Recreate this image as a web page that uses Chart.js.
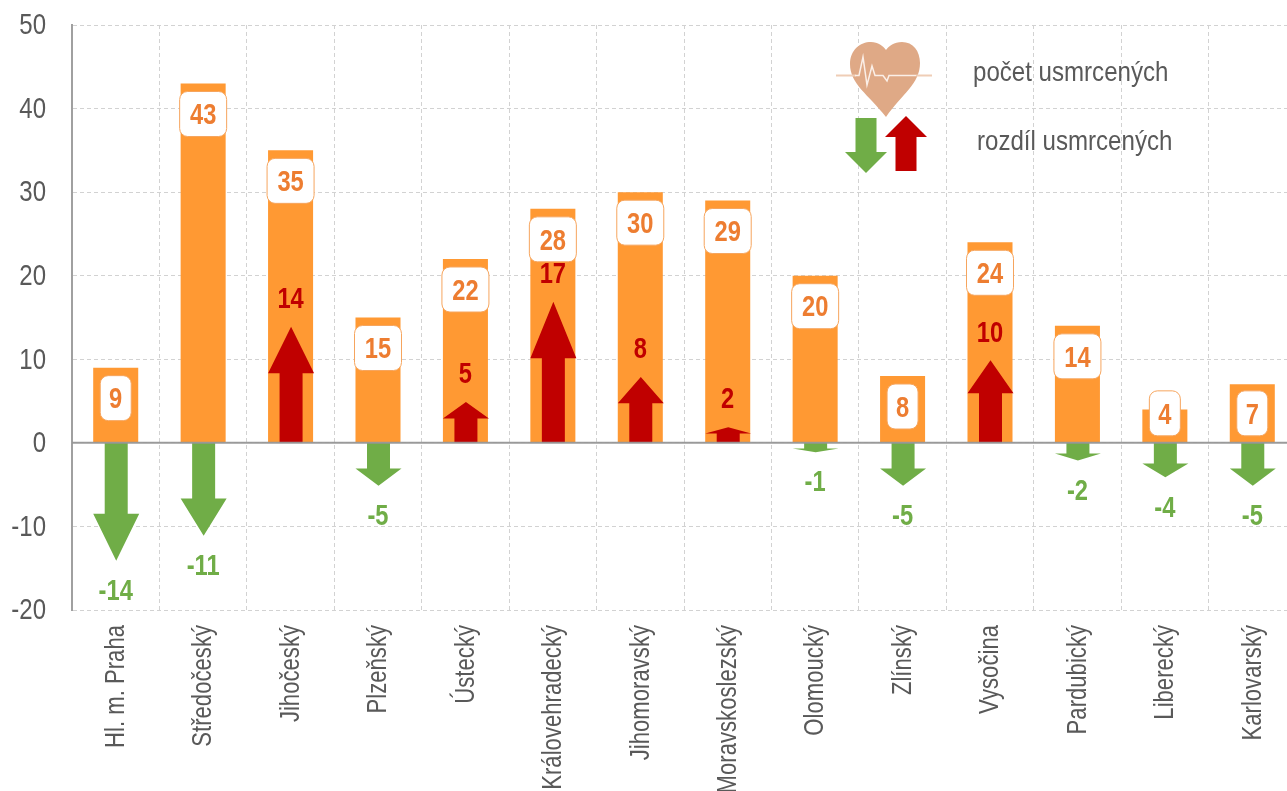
<!DOCTYPE html>
<html><head><meta charset="utf-8">
<style>html,body{margin:0;padding:0;background:#fff;overflow:hidden;width:1287px;height:791px}canvas{display:block}</style>
<script src="https://cdn.jsdelivr.net/npm/chart.js@4"></script></head>
<body><canvas id="c" width="1296" height="830"></canvas>
<script>
const categories = ["Hl. m. Praha","Středočeský","Jihočeský","Plzeňský","Ústecký","Královehradecký","Jihomoravský","Moravskoslezský","Olomoucký","Zlínský","Vysočina","Pardubický","Liberecký","Karlovarský"];
const deaths = [9,43,35,15,22,28,30,29,20,8,24,14,4,7];
const change = [-14,-11,14,-5,5,17,8,2,-1,-5,10,-2,-4,-5];
const yMin = -20, yMax = 50, yStep = 10;
const legendTexts = ["počet usmrcených","rozdíl usmrcených"];
const FONT = '"Liberation Sans",sans-serif';
const ORANGE='#FF9933', LABEL='#ED7D31', GREEN='#70AD47', RED='#C00000', GRAY='#595959';

function arrow(ctx,x,y0,y1,shaft,head,hl){
  const d=y1>y0?1:-1;const yb=y1-d*hl;
  ctx.beginPath();
  ctx.moveTo(x-shaft/2,y0);ctx.lineTo(x-shaft/2,yb);ctx.lineTo(x-head/2,yb);ctx.lineTo(x,y1);
  ctx.lineTo(x+head/2,yb);ctx.lineTo(x+shaft/2,yb);ctx.lineTo(x+shaft/2,y0);ctx.closePath();ctx.fill();
}
function narrowText(ctx,text,x,y,sx,rot){
  ctx.save();ctx.translate(x,y);if(rot)ctx.rotate(rot);ctx.scale(sx,1);ctx.fillText(text,0,0);ctx.restore();
}

const overlay={id:'overlay',
  afterDatasetsDraw(chart){
    const ctx=chart.ctx,a=chart.chartArea,ys=chart.scales.y,xs=chart.scales.x,zero=ys.getPixelForValue(0);
    const arrows=chart.getDatasetMeta(1).data,bars=chart.getDatasetMeta(0).data;
    ctx.save();
    arrows.forEach((el,i)=>{
      const v=change[i],tip=el.y+1,x=el.x+0.5,len=Math.abs(tip-zero);
      ctx.fillStyle=v<0?GREEN:RED;
      arrow(ctx,x,zero,tip,23,46,len*0.4);
    });
    ctx.strokeStyle='rgba(150,150,150,0.95)';ctx.lineWidth=2;
    ctx.beginPath();ctx.moveTo(a.left,zero);ctx.lineTo(a.right,zero);ctx.stroke();

    // axis tick labels (condensed)
    ctx.fillStyle=GRAY;ctx.textBaseline='middle';
    ctx.font='30px '+FONT;ctx.textAlign='right';
    ys.ticks.forEach(t=>narrowText(ctx,String(t.value),46,ys.getPixelForValue(t.value)+1,0.8));
    ctx.font='28px '+FONT;
    categories.forEach((c,i)=>narrowText(ctx,c,xs.getPixelForTick(i)+0.5,625,0.79,-Math.PI/2));

    ctx.textAlign='center';
    ctx.font='bold 30px '+FONT;
    arrows.forEach((el,i)=>{
      const v=change[i];ctx.fillStyle=v<0?GREEN:RED;
      narrowText(ctx,String(v),el.x,el.y+(v<0?32:-26),0.79);
    });
    bars.forEach((el,i)=>{
      const w=deaths[i]<10?31:47,h=45,top=Math.min(el.y+8,zero-52),x=el.x-w/2;
      ctx.beginPath();ctx.roundRect(x,top,w,h,8);ctx.fillStyle='#fff';ctx.fill();
      ctx.lineWidth=1;ctx.strokeStyle='#F6A55E';ctx.stroke();
      ctx.fillStyle=LABEL;narrowText(ctx,String(deaths[i]),el.x,top+h/2+2,0.79);
    });
    // legend
    ctx.fillStyle='#DFA986';
    ctx.beginPath();ctx.moveTo(886,117);
    ctx.bezierCurveTo(868,94,850,84,850,64);
    ctx.bezierCurveTo(850,50,860,42,871,42);
    ctx.bezierCurveTo(878,42,883,46,886,50);
    ctx.bezierCurveTo(889,46,894,42,902,42);
    ctx.bezierCurveTo(913,42,920,51,920,63);
    ctx.bezierCurveTo(920,84,902,94,886,117);ctx.closePath();ctx.fill();
    ctx.strokeStyle='#EFCDB6';ctx.lineWidth=2;
    ctx.beginPath();ctx.moveTo(836,75.5);ctx.lineTo(856,75.5);ctx.moveTo(916,75.5);ctx.lineTo(932,75.5);ctx.stroke();
    ctx.strokeStyle='#FBEFE7';ctx.lineWidth=1.5;ctx.lineJoin='miter';
    ctx.beginPath();ctx.moveTo(855,75.5);ctx.lineTo(859,75.5);ctx.lineTo(863,57);ctx.lineTo(867,85);ctx.lineTo(872,66);ctx.lineTo(875,75.5);ctx.lineTo(883,75.5);ctx.lineTo(887,81);ctx.lineTo(889,75.5);ctx.lineTo(916,75.5);ctx.stroke();
    ctx.fillStyle=GREEN;arrow(ctx,866,118,173,21,42,21);
    ctx.fillStyle=RED;arrow(ctx,906,171,116,21,42,21);
    ctx.fillStyle=GRAY;ctx.font='28px '+FONT;ctx.textAlign='left';
    narrowText(ctx,legendTexts[0],973,73,0.86);
    narrowText(ctx,legendTexts[1],977,142,0.86);
    ctx.restore();
  }
};

new Chart(document.getElementById('c'),{
  type:'bar',
  data:{labels:categories,datasets:[
    {label:'počet usmrcených',data:deaths,backgroundColor:ORANGE,barPercentage:0.515,categoryPercentage:1,grouped:false,order:2},
    {label:'rozdíl usmrcených',data:change,backgroundColor:'rgba(0,0,0,0)',barPercentage:0.515,categoryPercentage:1,grouped:false,order:1}
  ]},
  plugins:[overlay],
  options:{
    responsive:false,animation:false,devicePixelRatio:1,
    layout:{padding:{top:25,left:0,right:0,bottom:0}},
    plugins:{legend:{display:false},title:{display:false},tooltip:{enabled:false}},
    scales:{
      x:{type:'category',offset:true,
        grid:{color:'#D2D2D2',drawTicks:false,offset:true},
        border:{display:false,dash:[4,3]},
        ticks:{display:false,autoSkip:false},
        afterFit(s){s.height=220;}
      },
      y:{min:yMin,max:yMax,
        grid:{color:'#D2D2D2',drawTicks:false},
        border:{display:true,color:'#A0A0A0',width:2,dash:[4,3]},
        ticks:{display:false,stepSize:yStep},
        afterFit(s){s.width=72;}
      }
    }
  }
});
</script></body></html>
